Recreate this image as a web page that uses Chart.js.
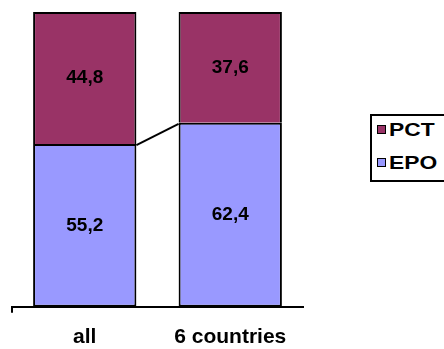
<!DOCTYPE html>
<html>
<head>
<meta charset="utf-8">
<script src="https://cdn.jsdelivr.net/npm/chart.js@4.4.1/dist/chart.umd.min.js"></script>
<style>
  html, body { margin: 0; padding: 0; background: #fff; }
  #wrap { position: relative; width: 444px; height: 349px; }
  #legend {
    position: absolute; left: 370px; top: 114px; width: 90px; height: 64px;
    border: 2px solid #000; background: #fff;
    font: bold 19px Arial, "Liberation Sans", sans-serif;
  }
  #legend div { position: absolute; left: 5px; height: 20px; line-height: 20px; white-space: nowrap; }
  #legend span.box {
    display: inline-block; width: 7px; height: 7px; border: 1.5px solid #000;
    margin-right: 3px; vertical-align: 2px;
  }
  #legend span.txt { display: inline-block; transform: scaleX(1.2); transform-origin: left center; }
</style>
</head>
<body>
<div id="wrap">
  <canvas id="chart" width="444" height="349"></canvas>
  <div id="legend"></div>
</div>
<script>
const categories = ["all", "6 countries"];
const epoValues = [55.2, 62.4];
const pctValues = [44.8, 37.6];
const seriesNames = ["EPO", "PCT"];
const seriesColors = ["#9999FF", "#993366"];

const fontFamily = 'Arial, "Liberation Sans", sans-serif';

// value labels in the middle of each segment
const valueLabels = {
  id: "valueLabels",
  afterDatasetsDraw(chart) {
    const ctx = chart.ctx;
    ctx.save();
    ctx.font = "bold 19px " + fontFamily;
    ctx.fillStyle = "#000";
    ctx.textAlign = "center";
    ctx.textBaseline = "middle";
    chart.data.datasets.forEach((ds, di) => {
      chart.getDatasetMeta(di).data.forEach((bar, i) => {
        const label = ds.data[i].toFixed(1).replace(".", ",");
        ctx.fillText(label, bar.x, (bar.y + bar.base) / 2);
      });
    });
    ctx.restore();
  },
};

// series line joining the top of the EPO segments
const seriesLines = {
  id: "seriesLines",
  afterDatasetsDraw(chart) {
    const bars = chart.getDatasetMeta(0).data;
    const ctx = chart.ctx;
    ctx.save();
    ctx.strokeStyle = "#000";
    ctx.lineWidth = 2;
    for (let i = 0; i < bars.length - 1; i++) {
      const a = bars[i], b = bars[i + 1];
      ctx.beginPath();
      ctx.moveTo(a.x + a.width / 2, a.y + 1);
      ctx.lineTo(b.x - b.width / 2, b.y + 1);
      ctx.stroke();
    }
    ctx.restore();
  },
};

new Chart(document.getElementById("chart"), {
  type: "bar",
  data: {
    labels: categories,
    datasets: [
      { label: seriesNames[0], data: epoValues, backgroundColor: seriesColors[0], borderSkipped: false },
      { label: seriesNames[1], data: pctValues, backgroundColor: seriesColors[1], borderSkipped: "start" },
    ].map((d) => Object.assign(d, {
      borderColor: "#000",
      borderWidth: 2,
      categoryPercentage: 1,
      barPercentage: 0.71,
    })),
  },
  options: {
    responsive: false,
    animation: false,
    layout: { padding: { left: 12, top: 12, right: 141, bottom: -13 } },
    plugins: { legend: { display: false }, tooltip: { enabled: false } },
    scales: {
      x: {
        stacked: true,
        offset: true,
        border: { display: true, color: "#000", width: 2 },
        grid: {
          offset: true,
          drawOnChartArea: false,
          tickLength: 6,
          lineWidth: 2,
          color: (c) => (c.index === 0 ? "#000" : "rgba(0,0,0,0)"),
        },
        ticks: {
          color: "#000",
          padding: 12,
          font: { family: fontFamily, size: 21, weight: "bold" },
        },
      },
      y: { stacked: true, display: false, min: 0, max: 100 },
    },
  },
  plugins: [valueLabels, seriesLines],
});

// legend, top series first
const legend = document.getElementById("legend");
[1, 0].forEach((s, row) => {
  const item = document.createElement("div");
  item.style.top = (row === 0 ? 4 : 37) + "px";
  item.innerHTML = '<span class="box" style="background:' + seriesColors[s] + '"></span>' +
    '<span class="txt">' + seriesNames[s] + "</span>";
  legend.appendChild(item);
});
</script>
</body>
</html>
